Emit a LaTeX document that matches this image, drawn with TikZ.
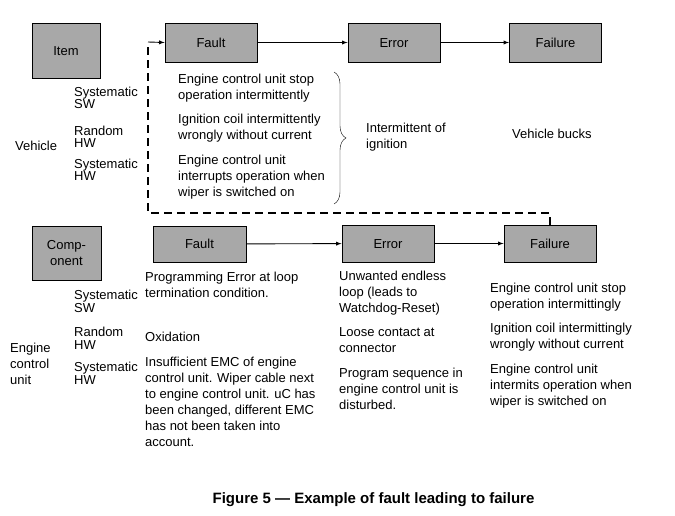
\documentclass[tikz,border=0pt]{standalone}
\usepackage{fontspec}
\setmainfont{Liberation Sans}
\usetikzlibrary{decorations.pathreplacing}
\tikzset{
  blk/.style={draw,line width=0.9pt,fill=black!34,minimum width=92pt,minimum height=38pt,inner sep=0pt,align=center,text height=9.3pt,text depth=0pt,font=\fontsize{13}{16}\selectfont},
  txt/.style={anchor=base west,align=left,inner sep=0pt,font=\fontsize{13}{16}\selectfont},
  lbl/.style={anchor=base west,align=left,inner sep=0pt,font=\fontsize{13}{12.5}\selectfont},
  link/.style={-latex,line width=0.9pt}
}
\begin{document}
\begin{tikzpicture}[x=1pt,y=-1pt]
		\useasboundingbox (0,0) rectangle (675,516);
		\node[blk,minimum width=68pt,minimum height=55pt] (item) at (66,50.5) {Item};
		\node[blk,minimum height=39pt] (fault1) at (211,42.5) {Fault};
		\node[blk,minimum height=39pt] (error1) at (394,42.5) {Error};
		\node[blk,minimum height=39pt] (fail1) at (555.5,42.5) {Failure};
		\draw[link] (fault1) -- (error1);
		\draw[link] (error1) -- (fail1);
		
		\node[txt] (veh) at (15,150.5) {Vehicle};
		\node[lbl] (vss) at (74,109) {Systematic\\SW};
		\node[lbl] (vrh) at (74,148) {Random\\HW};
		\node[lbl] (vsh) at (74,181) {Systematic\\HW};
		\node[txt] (ft1) at (178,99.5) {Engine control unit stop\\operation intermittently};
		\node[txt] (ft2) at (178,139.5) {Ignition coil intermittently\\wrongly without current};
		\node[txt] (ft3) at (178,196.5) {Engine control unit\\interrupts operation when\\wiper is switched on};
		\draw[decorate,decoration={brace,amplitude=12pt}] (334,72) -- (334,204);
		\node[txt] (er1) at (366,148.5) {Intermittent of\\ignition};
		\node[txt] (fl1) at (512,138.5) {Vehicle bucks};
		
		\node[blk,minimum width=69pt,minimum height=54pt,text height=,text depth=] (comp) at (66.5,253) {Comp-\\onent};
		\node[blk,minimum width=93pt,minimum height=36pt] (fault2) at (199.5,244) {Fault};
		\node[blk,minimum height=37pt] (error2) at (388,243.5) {Error};
		\node[blk,minimum height=37pt] (fail2) at (550,243.5) {Failure};
		\draw[link] (fault2) -- (error2);
		\draw[link] (error2) -- (fail2);
		
		\coordinate (c1) at (550,213);
		\coordinate (c2) at (148,213);
		\coordinate (c3) at (148,47);
		\coordinate (c4) at (148,42);
		\draw[line width=1.6pt,dash pattern=on 8pt off 5pt] (fail2.north) -- (c1) -- (c2) -- (c3);
		\draw[link] (c4) -- (fault1.west);
		
		\node[txt] (ecu) at (10,384.5) {Engine\\control\\unit};
		\node[lbl] (css) at (74,312) {Systematic\\SW};
		\node[lbl] (crh) at (74,349) {Random\\HW};
		\node[lbl] (csh) at (74,384) {Systematic\\HW};
		\node[txt] (fb1) at (145,297.5) {Programming Error at loop\\termination condition.};
		\node[txt] (fb2) at (145,341.5) {Oxidation};
		\node[txt] (fb3) at (145,446.5) {Insufficient EMC of engine\\control unit. Wiper cable next\\to engine control unit. uC has\\been changed, different EMC\\has not been taken into\\account.};
		\node[txt] (eb1) at (339,312.5) {Unwanted endless\\loop (leads to\\Watchdog-Reset)};
		\node[txt] (eb2) at (339,352.5) {Loose contact at\\connector};
		\node[txt] (eb3) at (339,409.5) {Program sequence in\\engine control unit is\\disturbed.};
		\node[txt] (lb1) at (490,308.5) {Engine control unit stop\\operation intermittingly};
		\node[txt] (lb2) at (490,348.5) {Ignition coil intermittingly\\wrongly without current};
		\node[txt] (lb3) at (490,405.5) {Engine control unit\\intermits operation when\\wiper is switched on};
		
		\node[font=\fontsize{15}{16}\selectfont\bfseries,anchor=base] (cap) at (373.5,503.5) {Figure 5 — Example of fault leading to failure};
	\end{tikzpicture}
\end{document}
